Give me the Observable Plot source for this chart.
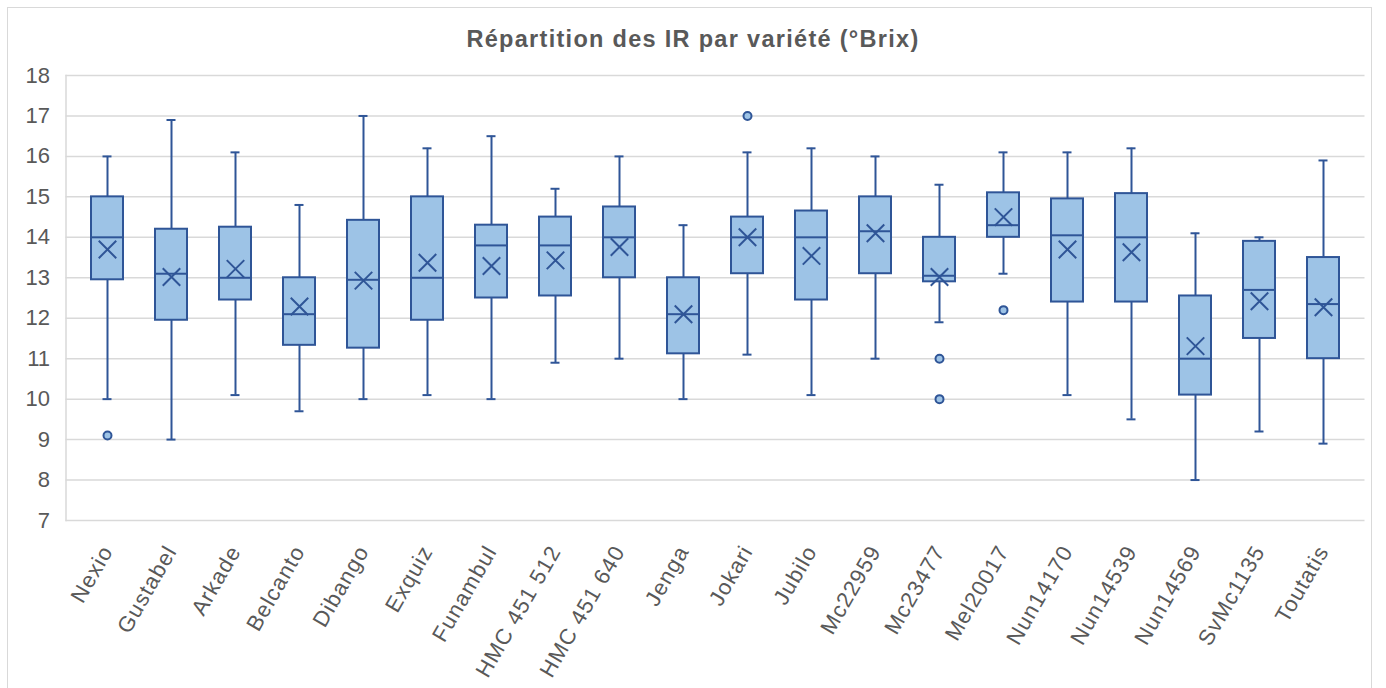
<!DOCTYPE html>
<html>
<head>
<meta charset="utf-8">
<script src="https://cdn.jsdelivr.net/npm/d3@7"></script>
<script src="https://cdn.jsdelivr.net/npm/@observablehq/plot@0.6"></script>
<style>
  html, body { margin: 0; padding: 0; background: #fff; }
  body { width: 1386px; height: 688px; overflow: hidden; position: relative; font-family: "Liberation Sans", Arial, sans-serif; }
  #frame { position: absolute; left: 7px; top: 7px; width: 1365px; height: 700px; border: 1px solid #D9D9D9; box-sizing: border-box; }
  #title { position: absolute; left: 0; width: 1386px; top: 27px; line-height: 24px; text-align: center; font-size: 23.5px; letter-spacing: 1.3px; font-weight: bold; color: #595959; }
  #chart { position: absolute; left: 0; top: 0; }
  #chart svg g[aria-label="x-axis tick label"] text { letter-spacing: 1.1px; }
</style>
</head>
<body>
<div id="frame"></div>
<div id="chart"></div>
<div id="title">Répartition des IR par variété (°Brix)</div>
<script>
const categories = ["Nexio","Gustabel","Arkade","Belcanto","Dibango","Exquiz","Funambul","HMC 451 512","HMC 451 640","Jenga","Jokari","Jubilo","Mc22959","Mc23477","Mel20017","Nun14170","Nun14539","Nun14569","SvMc1135","Toutatis"];
const whiskerLow  = [10.0, 9.0, 10.1, 9.7, 10.0, 10.1, 10.0, 10.9, 11.0, 10.0, 11.1, 10.1, 11.0, 11.9, 13.1, 10.1, 9.5, 8.0, 9.2, 8.9];
const q1          = [12.95, 11.95, 12.45, 11.33, 11.26, 11.95, 12.5, 12.55, 13.0, 11.12, 13.1, 12.45, 13.1, 12.9, 14.0, 12.4, 12.4, 10.1, 11.5, 11.0];
const median      = [14.0, 13.1, 13.0, 12.1, 12.95, 13.0, 13.8, 13.8, 14.0, 12.1, 14.0, 14.0, 14.15, 13.05, 14.3, 14.05, 14.0, 11.0, 12.7, 12.35];
const q3          = [15.0, 14.2, 14.25, 13.0, 14.42, 15.0, 14.3, 14.5, 14.75, 13.0, 14.5, 14.65, 15.0, 14.0, 15.1, 14.95, 15.08, 12.55, 13.9, 13.5];
const whiskerHigh = [16.0, 16.9, 16.1, 14.8, 17.0, 16.2, 16.5, 15.2, 16.0, 14.3, 16.1, 16.2, 16.0, 15.3, 16.1, 16.1, 16.2, 14.1, 14.0, 15.9];
const mean        = [13.7, 13.02, 13.22, 12.29, 12.93, 13.37, 13.29, 13.43, 13.76, 12.1, 14.0, 13.54, 14.1, 13.02, 14.5, 13.7, 13.63, 11.31, 12.42, 12.27];
const outlierCategory = ["Nexio", "Jokari", "Mc23477", "Mc23477", "Mel20017"];
const outlierValue    = [9.1, 17.0, 11.0, 10.0, 12.2];
const yTicks = [7, 8, 9, 10, 11, 12, 13, 14, 15, 16, 17, 18];

const stats = categories.map((c, i) => ({
  cat: c, lo: whiskerLow[i], q1: q1[i], med: median[i], q3: q3[i], hi: whiskerHigh[i], mean: mean[i]
}));
const outliers = outlierCategory.map((c, i) => ({cat: c, v: outlierValue[i]}));

const dark = "#2F5597";
const light = "#9DC3E6";

const chart = Plot.plot({
  width: 1386,
  height: 688,
  marginLeft: 65.5,
  marginRight: 21.5,
  marginTop: 75,
  marginBottom: 168,
  style: {fontFamily: "'Liberation Sans', Arial, sans-serif", background: "transparent"},
  x: {type: "band", domain: categories, padding: 0, label: null},
  y: {domain: [7, 18], label: null},
  marks: [
    Plot.ruleY(yTicks, {stroke: "#D9D9D9", strokeWidth: 1.5}),
    Plot.frame({anchor: "left", stroke: "#D9D9D9", strokeWidth: 1.5}),
    Plot.axisY({ticks: yTicks, tickSize: 0, tickPadding: 16, fontSize: 22, fill: "#595959", label: null}),
    Plot.axisX({tickSize: 0, tickPadding: 27, tickRotate: -60, fontSize: 22, fill: "#595959", label: null}),
    Plot.ruleX(stats, {x: "cat", y1: "lo", y2: "hi", stroke: dark, strokeWidth: 2}),
    Plot.tickY(stats, {x: "cat", y: "lo", stroke: dark, strokeWidth: 2, insetLeft: 27.5, insetRight: 27.5}),
    Plot.tickY(stats, {x: "cat", y: "hi", stroke: dark, strokeWidth: 2, insetLeft: 27.5, insetRight: 27.5}),
    Plot.barY(stats, {x: "cat", y1: "q1", y2: "q3", fill: light, stroke: dark, strokeWidth: 2, insetLeft: 16, insetRight: 16}),
    Plot.tickY(stats, {x: "cat", y: "med", stroke: dark, strokeWidth: 2, insetLeft: 16, insetRight: 16}),
    Plot.dot(stats, {x: "cat", y: "mean", symbol: "times", r: 8, stroke: dark, strokeWidth: 2}),
    Plot.dot(outliers, {x: "cat", y: "v", r: 4, fill: light, stroke: dark, strokeWidth: 2})
  ]
});
document.getElementById("chart").appendChild(chart);
</script>
</body>
</html>
